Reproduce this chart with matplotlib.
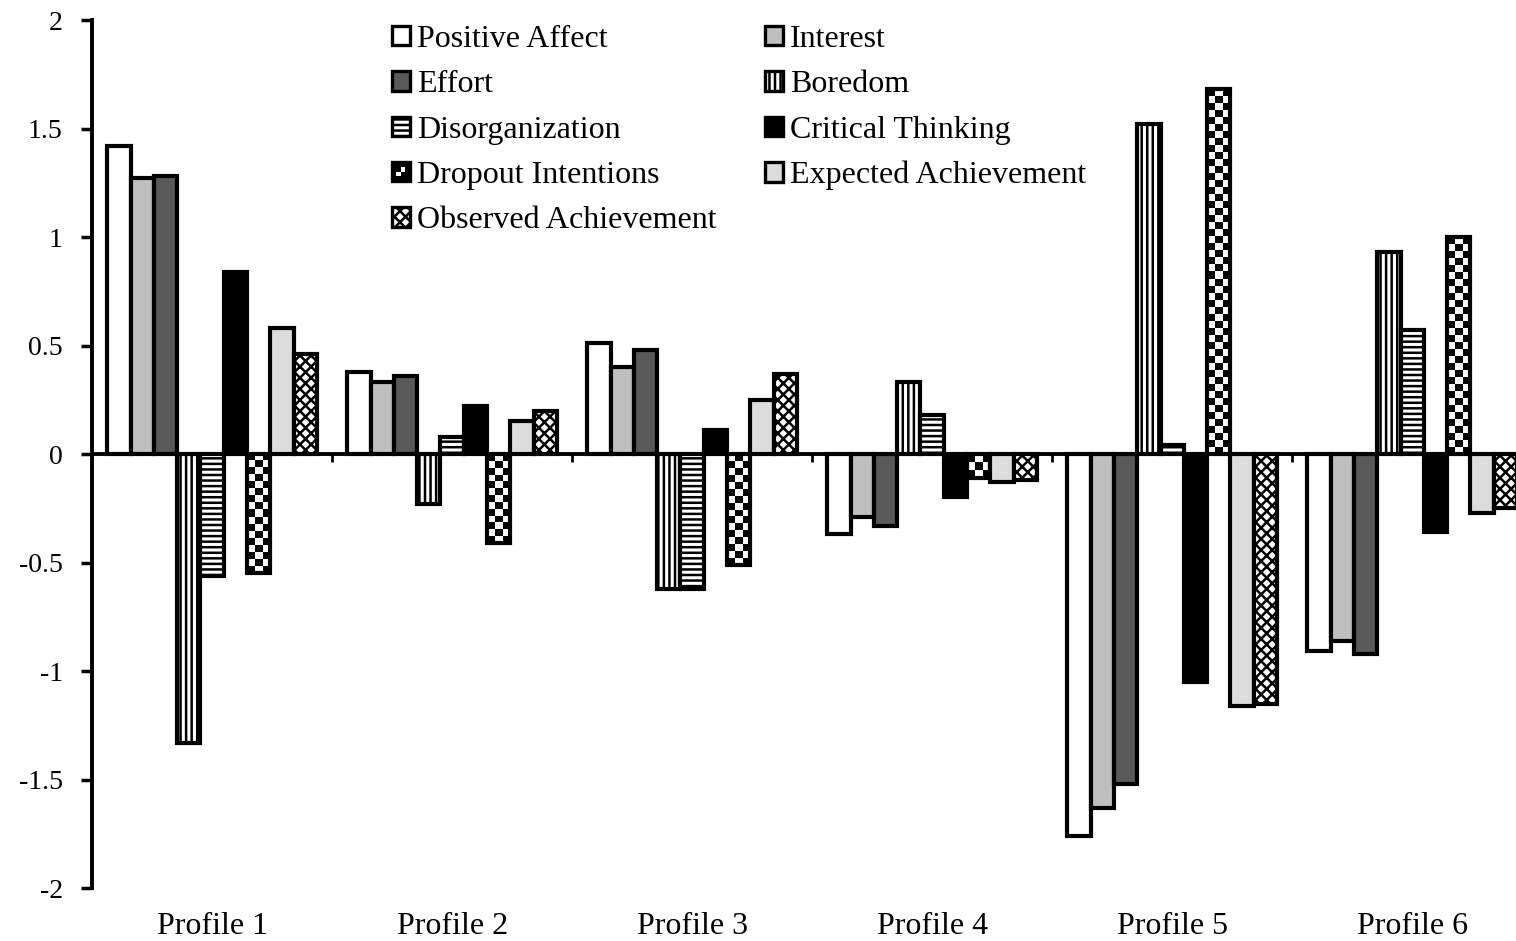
#!/usr/bin/env python3
"""
Standardized indicator means for six latent profiles (grouped bar chart).
"""

import numpy as np
import matplotlib
matplotlib.use('Agg')
import matplotlib.pyplot as plt
from matplotlib.patches import Patch, Rectangle
from matplotlib.legend_handler import HandlerBase

plt.rcParams['font.family'] = ['Liberation Serif', 'DejaVu Serif']
plt.rcParams['hatch.linewidth'] = 1.8

profiles = ['Profile 1', 'Profile 2', 'Profile 3', 'Profile 4', 'Profile 5', 'Profile 6']

positive_affect = [1.42, 0.38, 0.51, -0.37, -1.76, -0.91]
interest = [1.27, 0.33, 0.40, -0.29, -1.63, -0.86]
effort = [1.28, 0.36, 0.48, -0.33, -1.52, -0.92]
boredom = [-1.33, -0.23, -0.62, 0.33, 1.52, 0.93]
disorganization = [-0.56, 0.08, -0.62, 0.18, 0.04, 0.57]
critical_thinking = [0.84, 0.22, 0.11, -0.20, -1.05, -0.36]
dropout_intentions = [-0.55, -0.41, -0.51, -0.11, 1.68, 1.00]
expected_achievement = [0.58, 0.15, 0.25, -0.13, -1.16, -0.27]
observed_achievement = [0.46, 0.20, 0.37, -0.12, -1.15, -0.25]

# (label, values, facecolor, hatch)
series = [
    ('Positive Affect', positive_affect, 'white', None),
    ('Interest', interest, '#bfbfbf', None),
    ('Effort', effort, '#595959', None),
    ('Boredom', boredom, 'white', '|||'),
    ('Disorganization', disorganization, 'white', '---'),
    ('Critical Thinking', critical_thinking, 'black', None),
    ('Dropout Intentions', dropout_intentions, 'white', None),
    ('Expected Achievement', expected_achievement, '#dcdcdc', None),
    ('Observed Achievement', observed_achievement, 'white', 'xxx'),
]


class CheckerHandler(HandlerBase):
    """Small checkerboard square for the legend."""

    def create_artists(self, legend, orig_handle, xdescent, ydescent,
                       width, height, fontsize, trans):
        x0, y0 = -xdescent, -ydescent
        arts = [Rectangle((x0, y0), width, height, facecolor='black',
                          edgecolor='black', lw=2.4, transform=trans)]
        sw, sh = width / 4, height / 4
        for r in range(2):
            for c in range(2):
                if (r + c) % 2 == 0:
                    arts.append(Rectangle((x0 + sw + c * sw, y0 + sh + r * sh), sw, sh,
                                          facecolor='white', edgecolor='none',
                                          transform=trans))
        return arts


def add_checker(ax, bar, cell=0.032, ncols=3):
    """Fill a bar with a black/white checkerboard clipped to its outline."""
    x0, y0 = bar.get_x(), bar.get_y()
    bw, bh = bar.get_width(), bar.get_height()
    nrows = max(2, int(round(abs(bh) / cell)))
    grid = np.add.outer(np.arange(nrows), np.arange(ncols)) % 2
    im = ax.imshow(grid, cmap='gray', extent=(x0, x0 + bw, y0, y0 + bh),
                   aspect='auto', interpolation='nearest', zorder=3)
    im.set_clip_path(bar)


fig = plt.figure(figsize=(15.16, 9.41), dpi=100)
ax = fig.add_axes([0.0607, 0.0563, 0.95, 0.9224])

x = np.arange(len(profiles))
w = 0.097
edge_lw = 3.0
handles = []
for i, (label, vals, fc, hatch) in enumerate(series):
    pos = x + (i - 4) * w
    if label == 'Dropout Intentions':
        bars = ax.bar(pos, vals, w, facecolor='none', edgecolor='black',
                      linewidth=edge_lw, zorder=4)
        for b in bars:
            add_checker(ax, b)
        handles.append(Patch(facecolor='black', label=label))
    else:
        ax.bar(pos, vals, w, facecolor=fc, edgecolor='black', linewidth=edge_lw,
               hatch=hatch, zorder=4)
        handles.append(Patch(facecolor=fc, edgecolor='black', linewidth=2.4,
                             hatch=hatch, label=label))

ax.axhline(0, color='black', lw=2.8, zorder=5)
ax.vlines(x[:-1] + 0.5, -0.035, 0, color='black', lw=2, zorder=5)

ax.set_xlim(-0.5, 5.5)
ax.set_ylim(-2, 2)
ax.set_yticks(np.arange(-2, 2.01, 0.5))
ax.set_yticklabels(['-2', '-1.5', '-1', '-0.5', '0', '0.5', '1', '1.5', '2'])
ax.set_xticks(x)
ax.set_xticklabels(profiles)
ax.tick_params(axis='x', length=0, pad=17, labelsize=23)
ax.tick_params(axis='y', direction='out', length=8, width=2.5, pad=13, labelsize=20)
for side in ['top', 'right', 'bottom']:
    ax.spines[side].set_visible(False)
ax.spines['left'].set_linewidth(2.8)

# legend filled column-first so it reads row by row like the original
order = [0, 2, 4, 6, 8, 1, 3, 5, 7]
leg_handles = [handles[k] for k in order]
leg_labels = [series[k][0] for k in order]
fig.legend(leg_handles, leg_labels, loc='upper left',
           bbox_to_anchor=(392 / 1516, 1 - 25 / 941), ncol=2, frameon=False,
           fontsize=23, handlelength=0.56, handleheight=0.56,
           handletextpad=0.22, labelspacing=0.51, columnspacing=1.53,
           borderpad=0, borderaxespad=0,
           handler_map={leg_handles[3]: CheckerHandler()})

fig.savefig('out.png', dpi=100)
